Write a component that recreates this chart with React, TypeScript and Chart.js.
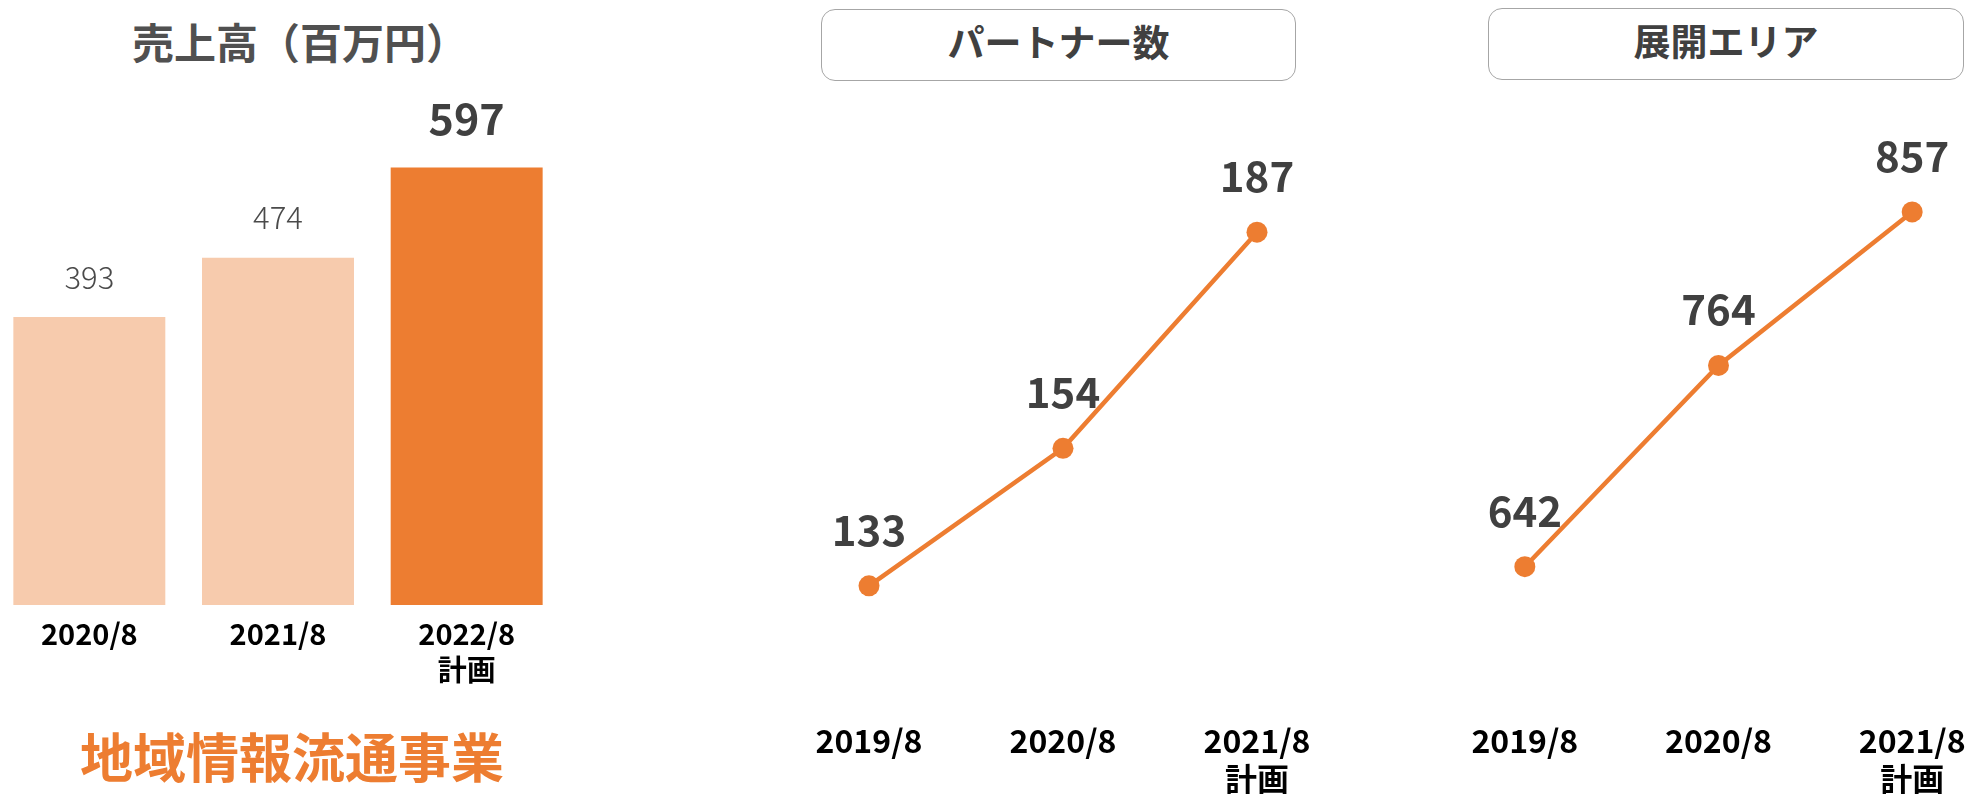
import React, { useEffect, useRef } from "react";
import { Chart, registerables } from "chart.js";

Chart.register(...registerables);

// ---- data ----
const salesCategories: (string | string[])[] = ["2020/8", "2021/8", ["2022/8", "計画"]];
const salesValues = [393, 474, 597];

const partnerCategories: (string | string[])[] = ["2019/8", "2020/8", ["2021/8", "計画"]];
const partnerValues = [133, 154, 187];

const areaCategories: (string | string[])[] = ["2019/8", "2020/8", ["2021/8", "計画"]];
const areaValues = [642, 764, 857];

const salesTitle = "売上高（百万円）";
const partnerTitle = "パートナー数";
const areaTitle = "展開エリア";
const segmentTitle = "地域情報流通事業";

// ---- styles ----
const FONT = '"Noto Sans CJK JP", "Noto Sans", sans-serif';
const ORANGE = "#ED7D31";
const LIGHT_ORANGE = "#F7CBAD";
const DARK_TEXT = "#404040";

type LabelStyle = { size: number; weight: string; color: string; offset: number };

function makeValueLabels(styles: LabelStyle[]) {
  return {
    id: "valueLabels",
    afterDatasetsDraw(chart: any) {
      const ctx = chart.ctx as CanvasRenderingContext2D;
      const meta = chart.getDatasetMeta(0);
      const data = chart.data.datasets[0].data as number[];
      meta.data.forEach((el: any, i: number) => {
        const s = styles[i] ?? styles[0];
        ctx.save();
        ctx.font = `${s.weight} ${s.size}px ${FONT}`;
        ctx.fillStyle = s.color;
        ctx.textAlign = "center";
        ctx.textBaseline = "middle";
        ctx.fillText(String(data[i]), el.x, el.y - s.offset);
        ctx.restore();
      });
    },
  };
}

function xAxis(axisHeight: number, tickLength: number, fontSize: number, lineHeightPx: number) {
  return {
    type: "category" as const,
    offset: true,
    grid: { display: false, drawTicks: true, tickLength },
    border: { display: false },
    ticks: {
      padding: 0,
      color: "#000",
      maxRotation: 0,
      autoSkip: false,
      font: { family: FONT, size: fontSize, weight: "bold" as const, lineHeight: lineHeightPx / fontSize },
    },
    afterFit(scale: any) {
      scale.height = axisHeight;
    },
  };
}

export default function App() {
  const barRef = useRef<HTMLCanvasElement>(null);
  const p1Ref = useRef<HTMLCanvasElement>(null);
  const p2Ref = useRef<HTMLCanvasElement>(null);

  useEffect(() => {
    const charts: Chart[] = [];

    charts.push(
      new Chart(barRef.current!, {
        type: "bar",
        data: {
          labels: salesCategories,
          datasets: [
            {
              data: salesValues,
              backgroundColor: [LIGHT_ORANGE, LIGHT_ORANGE, ORANGE],
              borderWidth: 0,
              categoryPercentage: 1,
              barPercentage: 0.8055,
            },
          ],
        },
        options: {
          responsive: false,
          animation: false,
          layout: { autoPadding: false, padding: { top: 92, left: 0, right: 0, bottom: 0 } },
          plugins: { legend: { display: false }, tooltip: { enabled: false } },
          scales: {
            x: xAxis(189, 11, 29, 36),
            y: { display: false, min: 0, max: 700 },
          },
        },
        plugins: [
          makeValueLabels([
            { size: 31, weight: "300", color: "#4a4a4a", offset: 40 },
            { size: 31, weight: "300", color: "#4a4a4a", offset: 40 },
            { size: 43, weight: "bold", color: DARK_TEXT, offset: 49 },
          ]),
        ],
      })
    );

    const lineDataset = (values: number[]) => ({
      data: values,
      borderColor: ORANGE,
      backgroundColor: ORANGE,
      borderWidth: 4.5,
      pointRadius: 10.5,
      pointBackgroundColor: ORANGE,
      pointBorderWidth: 0,
      tension: 0,
      fill: false,
      clip: false as const,
    });

    const lineLabelStyle: LabelStyle = { size: 42, weight: "600", color: DARK_TEXT, offset: 56 };

    charts.push(
      new Chart(p1Ref.current!, {
        type: "line",
        data: { labels: partnerCategories, datasets: [lineDataset(partnerValues)] },
        options: {
          responsive: false,
          animation: false,
          layout: { autoPadding: false, padding: { top: 147, left: 0, right: 0, bottom: 0 } },
          plugins: { legend: { display: false }, tooltip: { enabled: false } },
          scales: {
            x: xAxis(123, 51, 32, 38),
            y: { display: false, min: 120, max: 200 },
          },
        },
        plugins: [makeValueLabels([lineLabelStyle])],
      })
    );

    charts.push(
      new Chart(p2Ref.current!, {
        type: "line",
        data: { labels: areaCategories, datasets: [lineDataset(areaValues)] },
        options: {
          responsive: false,
          animation: false,
          layout: { autoPadding: false, padding: { top: 141, left: 0, right: 0, bottom: 0 } },
          plugins: { legend: { display: false }, tooltip: { enabled: false } },
          scales: {
            x: xAxis(158, 86, 32, 38),
            y: { display: false, min: 600, max: 900 },
          },
        },
        plugins: [makeValueLabels([lineLabelStyle])],
      })
    );

    return () => charts.forEach((c) => c.destroy());
  }, []);

  const boxStyle = (left: number, top: number, width: number): React.CSSProperties => ({
    position: "absolute",
    left,
    top,
    width,
    height: 72,
    boxSizing: "border-box",
    border: "1.5px solid #a6a6a6",
    borderRadius: 14,
    display: "flex",
    alignItems: "center",
    justifyContent: "center",
    paddingBottom: 8,
    fontFamily: FONT,
    fontWeight: "bold",
    fontSize: 37,
    color: DARK_TEXT,
    lineHeight: 1,
    background: "#fff",
  });

  return (
    <div
      style={{
        position: "absolute",
        left: 0,
        top: 0,
        width: 1975,
        height: 794,
        overflow: "hidden",
        background: "#fff",
        fontFamily: FONT,
      }}
    >
      <div
        style={{
          position: "absolute",
          left: 100,
          top: 20,
          width: 400,
          textAlign: "center",
          fontSize: 42,
          fontWeight: "bold",
          lineHeight: 1,
          color: "#505050",
          whiteSpace: "nowrap",
        }}
      >
        {salesTitle}
      </div>
      <canvas ref={barRef} width={566} height={794} style={{ position: "absolute", left: -5, top: 0 }} />
      <div
        style={{
          position: "absolute",
          left: 42,
          top: 729,
          width: 500,
          textAlign: "center",
          fontSize: 53,
          fontWeight: "bold",
          lineHeight: 1,
          color: ORANGE,
          whiteSpace: "nowrap",
        }}
      >
        {segmentTitle}
      </div>

      <div style={boxStyle(821, 9, 475)}>{partnerTitle}</div>
      <canvas ref={p1Ref} width={582} height={794} style={{ position: "absolute", left: 772, top: 0 }} />

      <div style={boxStyle(1488, 8, 476)}>{areaTitle}</div>
      <canvas ref={p2Ref} width={581} height={794} style={{ position: "absolute", left: 1428, top: 0 }} />
    </div>
  );
}
